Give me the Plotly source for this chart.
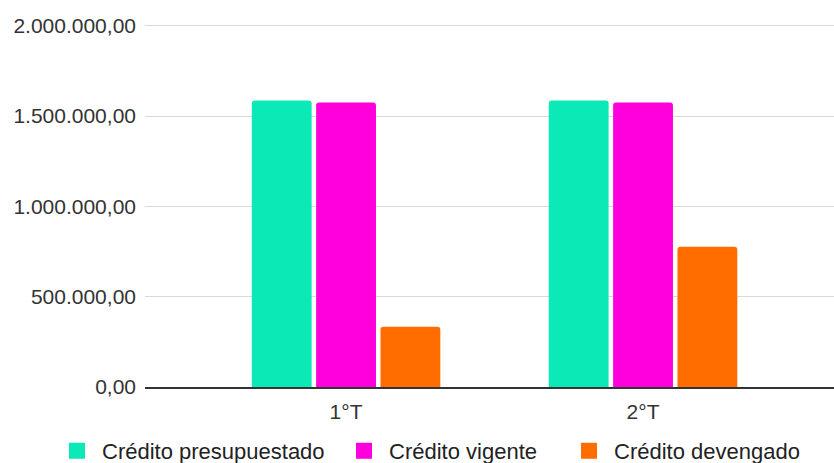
import plotly.graph_objects as go

categories = ["1°T", "2°T"]
presupuestado = [1586000, 1586000]
vigente = [1576000, 1576000]
devengado = [334000, 776000]

series_names = ["Crédito presupuestado", "Crédito vigente", "Crédito devengado"]
colors = ["#0BEAB6", "#FF00DC", "#FF6D01"]
y_ticks = [0, 500000, 1000000, 1500000, 2000000]
legend_x = [70, 357, 582]

fig = go.Figure()
for name, vals, col in zip(series_names, [presupuestado, vigente, devengado], colors):
    fig.add_trace(go.Bar(x=categories, y=vals, name=name, showlegend=False,
                         marker=dict(color=col, line=dict(width=0))))
# legend entries with larger square swatches, one legend each
legend_ids = ["legend", "legend2", "legend3"]
for name, col, lid in zip(series_names, colors, legend_ids):
    fig.add_trace(go.Scatter(x=[None], y=[None], mode="markers", name=name, legend=lid,
                             marker=dict(symbol="square", size=20, color=col)))

leg_common = dict(orientation="h", xref="container", yref="container",
                  xanchor="left", y=0.026, yanchor="middle",
                  font=dict(size=22, color="#222"), itemwidth=40,
                  itemsizing="trace", bgcolor="rgba(0,0,0,0)")

fig.update_layout(
    width=834, height=463,
    margin=dict(l=145, r=0, t=23.5, b=76, autoexpand=False),
    paper_bgcolor="white", plot_bgcolor="white",
    font=dict(family="Liberation Sans, Arial, sans-serif", size=21, color="#333"),
    separators=",.",
    barmode="group", bargap=0.35, bargroupgap=0.07, barcornerradius=3,
    showlegend=True,
    legend=dict(x=(legend_x[0] - 18) / 834, **leg_common),
    legend2=dict(x=(legend_x[1] - 18) / 834, **leg_common),
    legend3=dict(x=(legend_x[2] - 18) / 834, **leg_common),
)
fig.update_xaxes(range=[-0.677, 1.643], showgrid=False, showline=True,
                 linecolor="#333", linewidth=1.5, ticks="", tickfont=dict(size=21, color="#333"),
                 ticklabelstandoff=5)
fig.update_yaxes(range=[0, 2010000], tickvals=y_ticks, tickformat=",.2f",
                 showgrid=True, gridcolor="#d9d9d9", gridwidth=1, zeroline=False,
                 showline=False, ticks="", ticklabelstandoff=8, tickfont=dict(size=21, color="#333"))

fig.write_html("out.html", post_script="document.body.style.margin='0';",
               config={"displayModeBar": False})
